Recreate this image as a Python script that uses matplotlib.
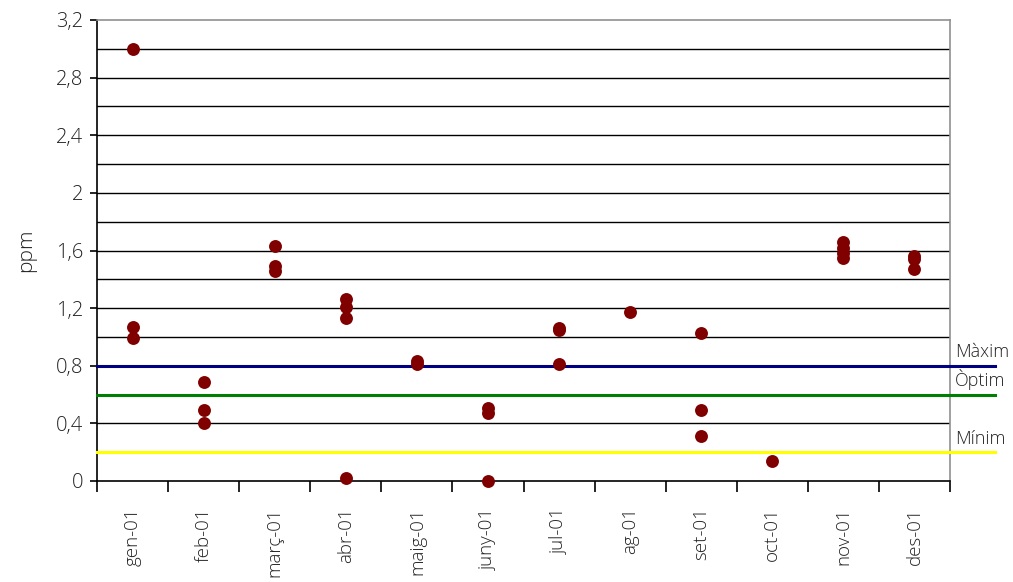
import matplotlib
matplotlib.use("Agg")
import matplotlib.pyplot as plt
import numpy as np
from matplotlib.ticker import MultipleLocator, FixedLocator, FuncFormatter

plt.rcParams['font.family'] = ['Open Sans', 'DejaVu Sans']
plt.rcParams['font.weight'] = 'light'

months = ['gen-01', 'feb-01', 'març-01', 'abr-01', 'maig-01', 'juny-01',
          'jul-01', 'ag-01', 'set-01', 'oct-01', 'nov-01', 'des-01']

# Measured concentrations (ppm) per month
gen = [3.00, 1.07, 0.99]
feb = [0.69, 0.49, 0.40]
marc = [1.63, 1.49, 1.46]
abr = [1.26, 1.21, 1.13, 0.02]
maig = [0.83, 0.81]
juny = [0.51, 0.47, 0.00]
jul = [1.06, 1.05, 0.81]
ag = [1.17]
setm = [1.03, 0.49, 0.31]
octm = [0.14]
nov = [1.66, 1.62, 1.58, 1.55]
des = [1.56, 1.54, 1.47]
samples = [gen, feb, marc, abr, maig, juny, jul, ag, setm, octm, nov, des]

# Reference levels
limit_names = ['Màxim', 'Òptim', 'Mínim']
limit_values = [0.8, 0.6, 0.2]
limit_colors = ['#000080', '#008000', '#ffff00']
label_offsets = [0.03, 0.035, 0.03]

fig = plt.figure(figsize=(10.13, 5.82), dpi=100)
ax = fig.add_axes([97 / 1013, 1 - 481 / 582, 853 / 1013, 461 / 582])

ax.set_xlim(0, len(months))
ax.set_ylim(0, 3.2)

# Horizontal grid every 0.2
for g in np.arange(0.2, 3.2, 0.2):
    ax.axhline(g, color='black', lw=1.0, zorder=1)

for i, vals in enumerate(samples):
    ax.plot([i + 0.5] * len(vals), vals, 'o', color='#800000',
            markersize=9.3, markeredgewidth=0, zorder=4, clip_on=False)

ytrans = ax.get_yaxis_transform()
for name, val, col, off in zip(limit_names, limit_values, limit_colors, label_offsets):
    ax.plot([0, 1.053], [val, val], color=col, lw=2.2,
            transform=ytrans, clip_on=False, zorder=3)
    ax.text(1.006, val + off, name, transform=ytrans, fontweight='light',
            fontsize=13, va='bottom', ha='left', color='#222222')

# Axes styling
ax.spines['left'].set_color('black')
ax.spines['bottom'].set_color('black')
ax.spines['top'].set_color('#909090')
ax.spines['right'].set_color('#909090')
for s in ax.spines.values():
    s.set_linewidth(1.2)

ax.yaxis.set_major_locator(MultipleLocator(0.4))
ax.yaxis.set_major_formatter(FuncFormatter(
    lambda v, p: ('%g' % round(v, 1)).replace('.', ',')))
ax.tick_params(axis='y', length=5, width=1.2, labelsize=14.5, pad=5,
               colors='black', labelcolor='#222222')

ax.xaxis.set_major_locator(FixedLocator(np.arange(0, len(months) + 1)))
ax.xaxis.set_major_formatter(FuncFormatter(lambda v, p: ''))
ax.xaxis.set_minor_locator(FixedLocator(np.arange(len(months)) + 0.5))
ax.set_xticklabels(months, minor=True, rotation=90, fontsize=13.5, color='#222222')
ax.tick_params(axis='x', which='major', length=8, width=1.2, direction='out')
ax.tick_params(axis='x', which='minor', length=0, pad=19)

ax.set_ylabel('ppm', fontsize=15, fontweight='light', color='#222222', labelpad=14)

fig.savefig('out.png', dpi=100)
